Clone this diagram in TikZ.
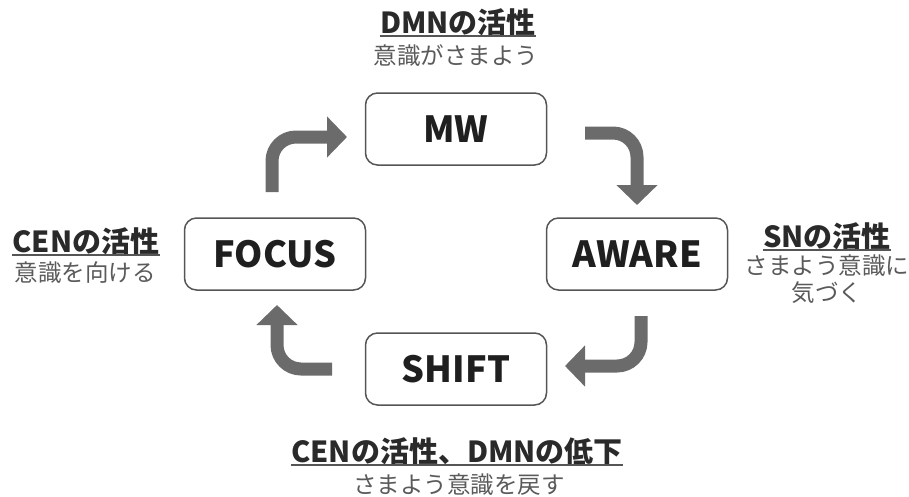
\documentclass[tikz,border=0pt]{standalone}
\usepackage{fontspec}
\usepackage{tikz}
\usetikzlibrary{arrows.meta}
\setmainfont{Noto Sans CJK JP}
\definecolor{boxline}{HTML}{555555}
\definecolor{arrowgray}{HTML}{6B6B6B}
\definecolor{headtext}{HTML}{2A2A2A}
\definecolor{subtext}{HTML}{5A5A5A}
\tikzstyle{state}=[rectangle,rounded corners=12pt,draw=boxline,line width=1.5pt,
minimum width=181pt,minimum height=72pt,inner sep=0pt,
font=\fontsize{36}{36}\selectfont\bfseries,text=black!88]
\tikzstyle{head}=[inner sep=0pt,font=\fontsize{29}{29}\selectfont\bfseries,text=headtext]
\tikzstyle{sub}=[inner sep=0pt,font=\fontsize{23.5}{27}\selectfont,text=subtext,align=center]
\tikzstyle{turn}=[line width=13pt,draw=arrowgray,rounded corners=24pt,
-{Triangle[width=40pt,length=20pt]}]

\begin{document}
\begin{tikzpicture}[x=1pt,y=-1pt]
	\useasboundingbox (0,0) rectangle (909,496);

	\node  (mw)      at (456,129) [state] {MW};
	\node  (focus)   at (275,254) [state] {FOCUS};
	\node  (aware)   at (637,254) [state] {AWARE};
	\node  (shift)   at (456,369) [state] {SHIFT};

	\node  (dmnhead)   at (458,22)  [head] {DMNの活性};
	\node  (dmnsub)    at (456,56)  [sub] {意識がさまよう};
	\node  (cenhead)   at (86,241)  [head] {CENの活性};
	\node  (censub)    at (85,273)  [sub] {意識を向ける};
	\node  (snhead)    at (827,236) [head] {SNの活性};
	\node  (snsub)     at (827,279) [sub] {さまよう意識に\\気づく};
	\node  (shifthead) at (457,451) [head] {CENの活性、DMNの低下};
	\node  (shiftsub)  at (459,485) [sub] {さまよう意識を戻す};

	\foreach \h in {dmnhead,cenhead,snhead,shifthead}
		\draw [draw=boxline,line width=2pt] (\h.south west) to (\h.south east);

	\coordinate (f1) at (272,192);
	\coordinate (f2) at (347,137);
	\coordinate (m1) at (585,133);
	\coordinate (m2) at (637,205);
	\coordinate (a1) at (641,316);
	\coordinate (a2) at (565,366);
	\coordinate (s1) at (332,369);
	\coordinate (s2) at (277,305);

	\draw [turn] (f1) |- (f2);
	\draw [turn] (m1) -| (m2);
	\draw [turn] (a1) |- (a2);
	\draw [turn] (s1) -| (s2);

\end{tikzpicture}
\end{document}
